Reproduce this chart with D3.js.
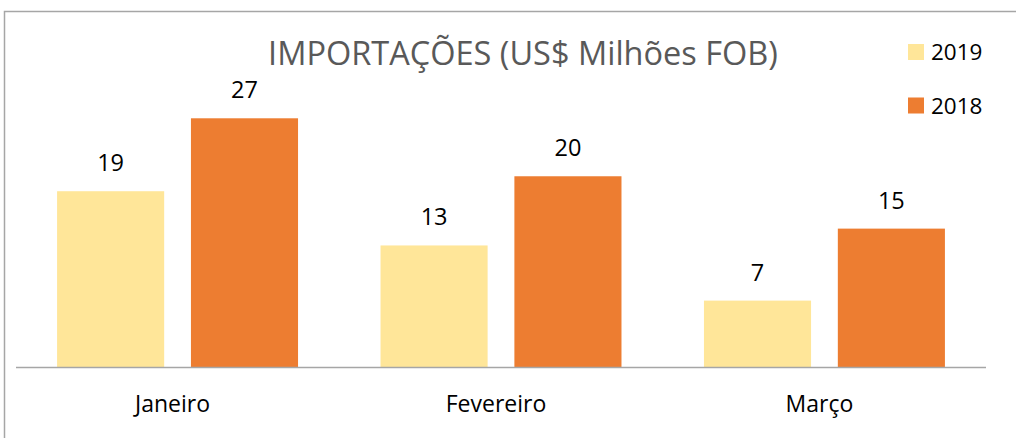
<!DOCTYPE html>
<html>
<head>
<meta charset="utf-8">
<script src="https://cdn.jsdelivr.net/npm/d3@7"></script>
<style>
  body { margin: 0; background: #fff; }
  text { font-family: "Open Sans", sans-serif; }
</style>
</head>
<body>
<div id="chart"></div>
<script>
// Chart data
var months = ["Janeiro", "Fevereiro", "Março"];
var years = ["2019", "2018"];
var values2019 = [18.8, 13.0, 7.1];
var values2018 = [26.6, 20.4, 14.8];
var colors = ["#FFE699", "#ED7D31"];

var width = 1016,
    height = 438;

var svg = d3.select("#chart")
    .append("svg")
    .attr("width", width)
    .attr("height", height);

// Chart border (runs off the right and bottom edges)
svg.append("rect")
    .attr("x", 4.5)
    .attr("y", 11.5)
    .attr("width", width + 10)
    .attr("height", height + 10)
    .style("fill", "none")
    .style("stroke", "#a6a6a6")
    .style("stroke-width", 1.5);

// Plot area
var plotLeft = 16, plotRight = 986, baseline = 367;

var x0 = d3.scaleBand()
    .domain(months)
    .range([plotLeft, plotRight])
    .paddingInner(0.255)
    .paddingOuter(0.127);

var x1 = d3.scaleBand()
    .domain(years)
    .range([0, x0.bandwidth()])
    .paddingInner(0.2);

var y = d3.scaleLinear()
    .domain([0, 30])
    .range([baseline, 86.5]);

var rows = months.map(function (m, i) {
    return { month: m, vals: [values2019[i], values2018[i]] };
});

var groups = svg.selectAll(".group")
    .data(rows)
    .enter()
    .append("g")
    .attr("class", "group")
    .attr("transform", d => "translate(" + x0(d.month) + ",0)");

groups.selectAll("rect")
    .data(d => d.vals.map((v, j) => ({ year: years[j], value: v, idx: j })))
    .enter()
    .append("rect")
    .attr("x", d => x1(d.year))
    .attr("y", d => y(d.value))
    .attr("width", x1.bandwidth())
    .attr("height", d => baseline - y(d.value))
    .style("fill", d => colors[d.idx]);

// Value labels
groups.selectAll(".label")
    .data(d => d.vals.map((v, j) => ({ year: years[j], value: v })))
    .enter()
    .append("text")
    .attr("class", "label")
    .attr("x", d => x1(d.year) + x1.bandwidth() / 2)
    .attr("y", d => y(d.value) - 20)
    .attr("text-anchor", "middle")
    .style("font-size", "23.5px")
    .style("fill", "#000")
    .text(d => d3.format(".0f")(d.value));

// Axis line
svg.append("line")
    .attr("x1", plotLeft)
    .attr("x2", plotRight)
    .attr("y1", baseline + 0.5)
    .attr("y2", baseline + 0.5)
    .style("stroke", "#a6a6a6")
    .style("stroke-width", 1.5);

// Category labels
svg.selectAll(".cat")
    .data(months)
    .enter()
    .append("text")
    .attr("class", "cat")
    .attr("x", d => x0(d) + x0.bandwidth() / 2 - 5)
    .attr("y", 412)
    .attr("text-anchor", "middle")
    .style("font-size", "23px")
    .style("fill", "#000")
    .text(d => d);

// Title
svg.append("text")
    .attr("x", 523)
    .attr("y", 65)
    .attr("text-anchor", "middle")
    .style("font-size", "32.5px")
    .style("fill", "#595959")
    .text("IMPORTAÇÕES (US$ Milhões FOB)");

// Legend
var legend = svg.selectAll(".legend")
    .data(years)
    .enter()
    .append("g")
    .attr("class", "legend")
    .attr("transform", (d, i) => "translate(908," + (44 + i * 53.5) + ")");

legend.append("rect")
    .attr("width", 16)
    .attr("height", 16)
    .style("fill", (d, i) => colors[i]);

legend.append("text")
    .attr("x", 23)
    .attr("y", 16)
    .style("font-size", "22.5px")
    .style("fill", "#000")
    .text(d => d);
</script>
</body>
</html>
